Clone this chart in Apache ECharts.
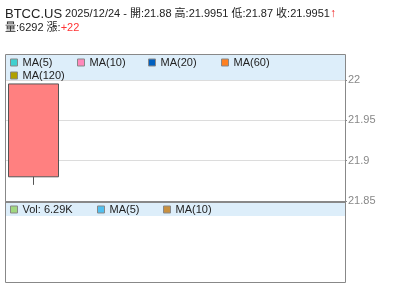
<!DOCTYPE html>
<html><head><meta charset="utf-8">
<script src="https://cdn.jsdelivr.net/npm/echarts@6/dist/echarts.min.js"></script>
<style>html,body{margin:0;padding:0;background:#fff}#c{width:400px;height:301px}</style>
</head><body><div id="c"></div>
<script>
const symbol = 'BTCC.US';
const dates = ['2025/12/24'];
const slotCount = 6;
const opens = [21.88];
const highs = [21.9951];
const lows = [21.87];
const closes = [21.9951];
const volumes = [6292];
const change = ['+22'];
const maNames = ['MA(5)', 'MA(10)', 'MA(20)', 'MA(60)', 'MA(120)'];
const maColors = ['#40d0d0', '#ff88bb', '#0060c0', '#ff8020', '#b0a000'];
const volMaNames = ['MA(5)', 'MA(10)'];
const volMaColors = ['#50c0f0', '#c89040'];
const yTicks = [21.85, 21.9, 21.95, 22];

const FONT = 'Arial, "Liberation Sans", "Noto Sans CJK TC", sans-serif';
const cats = dates.concat(Array(slotCount - dates.length).fill(''));
const candleData = dates.map((d, i) => [opens[i], closes[i], lows[i], highs[i]]);
const volLabel = 'Vol: ' + (volumes[0] / 1000).toFixed(2) + 'K';

const series = [{
  type: 'candlestick', name: symbol, xAxisIndex: 0, yAxisIndex: 0,
  data: candleData, barWidth: '90%', barMaxWidth: 200,
  itemStyle: { color: '#ff8080', color0: '#80c080', borderColor: '#555', borderColor0: '#555', borderWidth: 1 }
}];
maNames.forEach((n, i) => series.push({ type: 'line', name: n, xAxisIndex: 0, yAxisIndex: 0, data: [],
  itemStyle: { color: maColors[i] }, lineStyle: { color: maColors[i] } }));
series.push({ type: 'bar', name: volLabel, xAxisIndex: 1, yAxisIndex: 1, data: [], itemStyle: { color: '#a0d880' } });
volMaNames.forEach((n, i) => series.push({ type: 'line', name: n + ' ', xAxisIndex: 1, yAxisIndex: 1, data: [],
  itemStyle: { color: volMaColors[i] }, lineStyle: { color: volMaColors[i] } }));

function lg(name, left, top) {
  return { data: [name], left: left, top: top, icon: 'rect', itemWidth: 7, itemHeight: 7, padding: 0,
    selectedMode: false, itemStyle: { borderColor: '#888', borderWidth: 1 },
    textStyle: { fontSize: 11, color: '#222', fontFamily: FONT, padding: [0, 0, 0, 0] } };
}
const legends = [
  lg(maNames[0], 10, 57), lg(maNames[1], 77, 57), lg(maNames[2], 148, 57), lg(maNames[3], 221, 57),
  lg(maNames[4], 10, 70),
  lg(volLabel, 10, 204), lg(volMaNames[0] + ' ', 97, 204), lg(volMaNames[1] + ' ', 163, 204)
];

const chart = echarts.init(document.getElementById('c'), null, { renderer: 'canvas' });
chart.setOption({
  animation: false,
  textStyle: { fontFamily: FONT },
  title: {
    left: 5, top: 7, padding: 0,
    text: '{a|' + symbol + '} {b|' + dates[0] + ' - 開:' + opens[0] + ' 高:' + highs[0] + ' 低:' + lows[0] + ' 收:' + closes[0] + '}{u|↑}\n{b|量:' + volumes[0] + ' 漲:}{r|' + change[0] + '}',
    textStyle: {
      fontSize: 11, color: '#222', fontWeight: 'normal', fontFamily: FONT, lineHeight: 14,
      rich: {
        a: { fontSize: 13, color: '#222', fontFamily: FONT, lineHeight: 14 },
        b: { fontSize: 11, color: '#222', fontFamily: FONT, lineHeight: 14 },
        u: { fontSize: 12, color: '#ee2222', fontFamily: FONT, lineHeight: 14, fontWeight: 'bold' },
        r: { fontSize: 11, color: '#ff3333', fontFamily: FONT, lineHeight: 14 }
      }
    }
  },
  legend: legends,
  grid: [
    { left: 5, right: 55, top: 80, height: 121 },
    { left: 5, right: 55, top: 216, height: 66 }
  ],
  xAxis: [
    { type: 'category', gridIndex: 0, data: cats, boundaryGap: true, show: false },
    { type: 'category', gridIndex: 1, data: cats, boundaryGap: true, show: false }
  ],
  yAxis: [
    { type: 'value', gridIndex: 0, position: 'right', min: yTicks[0], max: yTicks[yTicks.length - 1], interval: 0.05,
      axisLine: { show: false },
      axisTick: { show: true, length: 2, lineStyle: { color: '#888' } },
      axisLabel: { color: '#888', fontSize: 11, margin: 3, fontFamily: FONT },
      splitLine: { show: true, lineStyle: { color: '#dcdcdc', width: 1 } } },
    { type: 'value', gridIndex: 1, position: 'right', show: false, splitLine: { show: false } }
  ],
  series: series,
  graphic: [
    { type: 'rect', z: 0, shape: { x: 6, y: 55, width: 339, height: 25 }, style: { fill: '#ddeefa' }, silent: true },
    { type: 'rect', z: 0, shape: { x: 6, y: 203, width: 339, height: 13 }, style: { fill: '#ddeefa' }, silent: true },
    { type: 'rect', z: 100, shape: { x: 5.5, y: 54.5, width: 340, height: 147 }, style: { fill: null, stroke: '#888', lineWidth: 1 }, silent: true },
    { type: 'rect', z: 100, shape: { x: 5.5, y: 201.5, width: 340, height: 81 }, style: { fill: null, stroke: '#888', lineWidth: 1 }, silent: true },
    { type: 'line', z: 100, shape: { x1: 5, y1: 202.5, x2: 346, y2: 202.5 }, style: { stroke: '#888', lineWidth: 1 }, silent: true }
  ]
});
</script></body></html>
